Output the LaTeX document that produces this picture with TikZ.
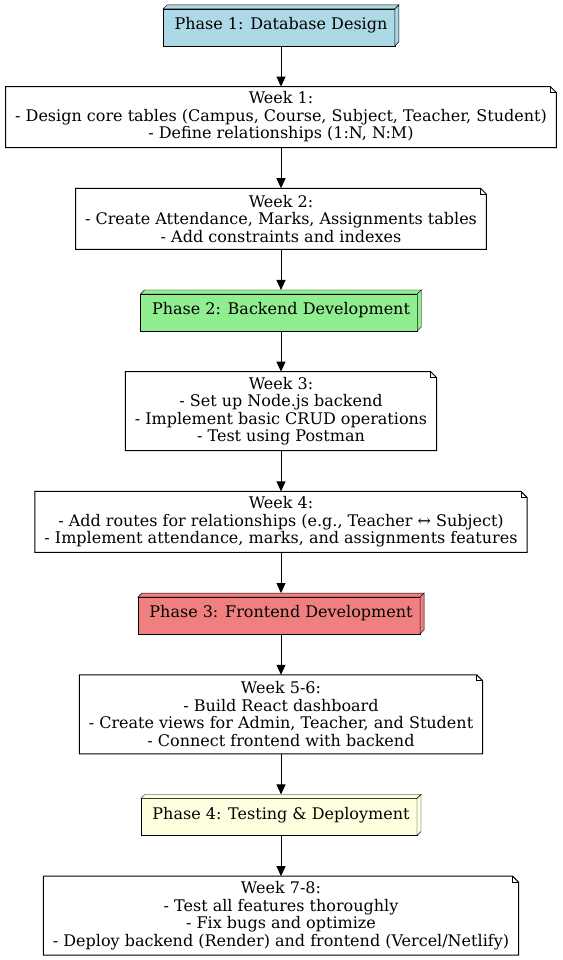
\documentclass[tikz,border=0pt]{standalone}
\usepackage{fontspec}
\setmainfont{DejaVu Serif}
\usetikzlibrary{arrows.meta,backgrounds}
\definecolor{phaseblue}{RGB}{173,216,230}
\definecolor{phasegreen}{RGB}{144,238,144}
\definecolor{phasecoral}{RGB}{240,128,128}
\definecolor{phaseyellow}{RGB}{255,255,224}

\begin{document}
\begin{tikzpicture}[x=1pt,y=1pt,line width=1pt,
  font=\fontsize{16}{17.5}\selectfont,
  phase/.style={inner xsep=11pt, minimum height=40pt},
  week/.style={align=center, inner xsep=9pt, inner ysep=4.5pt, minimum height=#1},
  week/.default=60pt,
  link/.style={-{Triangle[length=10pt,width=9pt]}}]

  \useasboundingbox (0,0) rectangle (562,-960);

  \matrix[row sep=41.7pt] at (281,-480) {
    \node[phase](p1){Phase 1: Database Design};\\
    \node[week](w1){Week 1:\\- Design core tables (Campus, Course, Subject, Teacher, Student)\\- Define relationships (1:N, N:M)};\\
    \node[week](w2){Week 2:\\- Create Attendance, Marks, Assignments tables\\- Add constraints and indexes};\\
    \node[phase](p2){Phase 2: Backend Development};\\
    \node[week=78pt](w3){Week 3:\\- Set up Node.js backend\\- Implement basic CRUD operations\\- Test using Postman};\\
    \node[week](w4){Week 4:\\- Add routes for relationships (e.g., Teacher ↔ Subject)\\- Implement attendance, marks, and assignments features};\\
    \node[phase](p3){Phase 3: Frontend Development};\\
    \node[week=78pt](w56){Week 5-6:\\- Build React dashboard\\- Create views for Admin, Teacher, and Student\\- Connect frontend with backend};\\
    \node[phase](p4){Phase 4: Testing \& Deployment};\\
    \node[week=78pt](w78){Week 7-8:\\- Test all features thoroughly\\- Fix bugs and optimize\\- Deploy backend (Render) and frontend (Vercel/Netlify)};\\
  };

  % 3d boxes for the phases
  \begin{scope}[on background layer]
    \foreach \n/\c in {p1/phaseblue, p2/phasegreen, p3/phasecoral, p4/phaseyellow}{
      \filldraw[fill=\c] (\n.south west) rectangle ([shift={(-4pt,-4pt)}]\n.north east);
      \filldraw[fill=\c] ([yshift=-4pt]\n.north west) -- ([xshift=4pt]\n.north west)
        -- (\n.north east) -- ([shift={(-4pt,-4pt)}]\n.north east) -- cycle;
      \filldraw[fill=\c] ([shift={(-4pt,-4pt)}]\n.north east) -- (\n.north east)
        -- ([yshift=4pt]\n.south east) -- ([xshift=-4pt]\n.south east) -- cycle;
    }
  \end{scope}

  % note outlines
  \foreach \n in {w1,w2,w3,w4,w56,w78}{
    \draw (\n.north west) -- ([xshift=-6pt]\n.north east) -- ([yshift=-6pt]\n.north east)
      -- (\n.south east) -- (\n.south west) -- cycle;
    \draw ([xshift=-6pt]\n.north east) |- ([yshift=-6pt]\n.north east);
  }

  \draw[link] (p1) -- (w1);
  \draw[link] (w1) -- (w2);
  \draw[link] (w2) -- (p2);
  \draw[link] (p2) -- (w3);
  \draw[link] (w3) -- (w4);
  \draw[link] (w4) -- (p3);
  \draw[link] (p3) -- (w56);
  \draw[link] (w56) -- (p4);
  \draw[link] (p4) -- (w78);

\end{tikzpicture}
\end{document}
